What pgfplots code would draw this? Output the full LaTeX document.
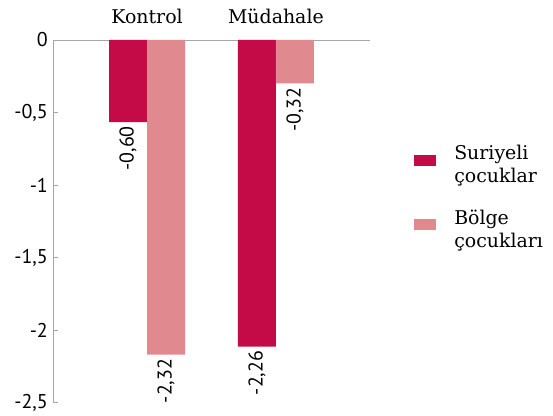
\documentclass[border=0pt]{standalone}
\usepackage{fontspec}
\setmainfont{PT Sans}
\newfontfamily\slab{DejaVu Serif}
\usepackage{pgfplots}
\pgfplotsset{compat=1.18}
\definecolor{suriye}{HTML}{C40B47}
\definecolor{bolge}{HTML}{E08A8F}
\definecolor{axgray}{HTML}{A6A6A6}

\begin{document}
\begin{tikzpicture}
\useasboundingbox (-53bp,-13.5bp) rectangle (500bp,402.5bp);
\begin{axis}[
    at={(0,0)}, anchor=south west,
    scale only axis,
    width=317bp, height=362.5bp,
    ybar=0pt, bar width=38bp,
    xmin=0.27, xmax=2.73,
    ymin=-2.5, ymax=0,
    axis x line*=top, axis y line*=left,
    axis line style={axgray, line width=0.8bp},
    xtick={1,2}, xticklabels={Kontrol, Müdahale},
    xticklabel style={font=\slab\fontsize{19}{23}\selectfont, inner sep=0pt, yshift=16bp},
    major x tick style={draw=none},
    ytick={-2.5,-2,-1.5,-1,-0.5,0},
    yticklabel style={font=\fontsize{20}{24}\selectfont, inner sep=0pt, xshift=-5bp,
        /pgf/number format/use comma, /pgf/number format/assume math mode=true},
    major y tick style={axgray, line width=0.8bp},
    major tick length=5bp,
    tick align=inside,
    clip=false,
    point meta=explicit symbolic,
    nodes near coords,
    every node near coord/.append style={rotate=90, anchor=east, inner sep=4bp,
        font=\fontsize{20}{24}\selectfont, text=black},
    legend style={at={(1.139,0.716)}, anchor=north west, draw=none, fill=none,
        inner sep=0pt, row sep=22bp, font=\slab\fontsize{19}{23}\selectfont,
        cells={align=left, anchor=west, inner sep=0pt},
        /tikz/every odd column/.style={column sep=16bp}},
]
\addplot[fill=suriye, draw=none,
    legend image code/.code={\fill[suriye] (0bp,-1bp) rectangle (22bp,10bp);}]
    coordinates {(1,-0.566) [-0,60] (2,-2.115) [-2,26]};
\addlegendentry{Suriyeli\\çocuklar}
\addplot[fill=bolge, draw=none,
    legend image code/.code={\fill[bolge] (0bp,-1bp) rectangle (22bp,10bp);}]
    coordinates {(1,-2.17) [-2,32] (2,-0.30) [-0,32]};
\addlegendentry{Bölge\\çocukları}
\end{axis}
\end{tikzpicture}
\end{document}
